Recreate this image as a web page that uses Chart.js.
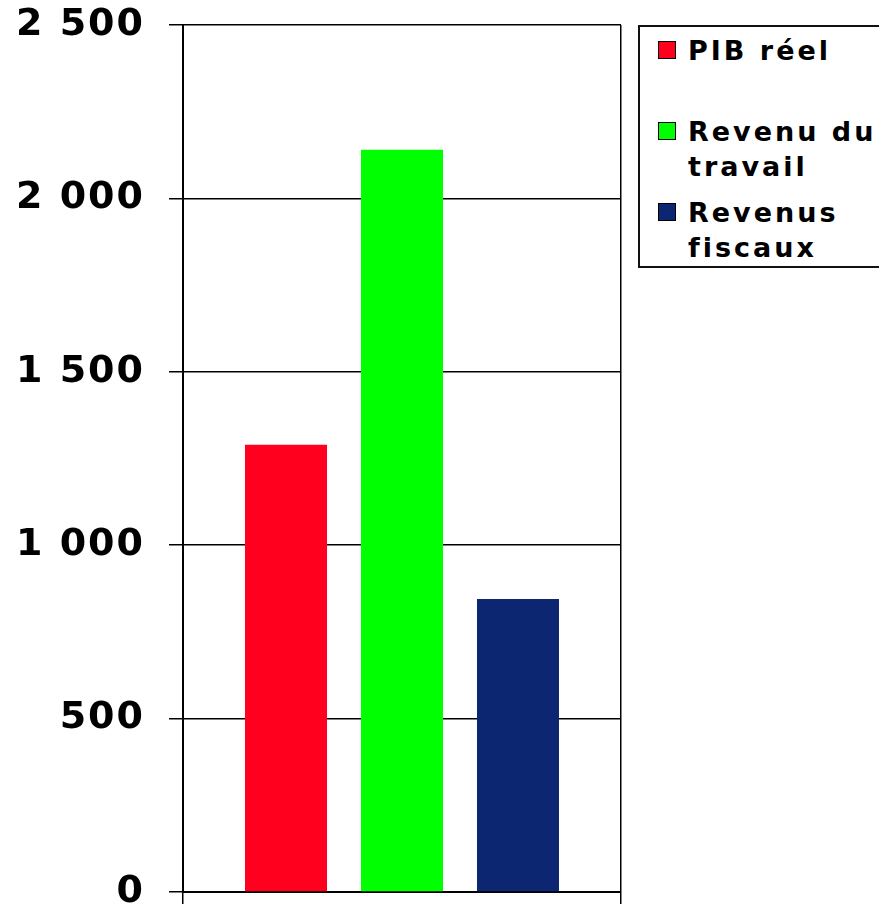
<!DOCTYPE html>
<html>
<head>
<meta charset="utf-8">
<script src="https://cdn.jsdelivr.net/npm/chart.js@4.4.1/dist/chart.umd.min.js"></script>
<style>
  html, body { margin: 0; padding: 0; background: #fff; }
  #wrap { position: relative; width: 879px; height: 909px; overflow: hidden; }
  #legend {
    position: absolute; left: 638px; top: 25px; width: 243px; height: 243px;
    box-sizing: border-box; border: 2px solid #111; background: #fff;
  }
  .item { position: absolute; left: 18px; }
  .sw { position: absolute; left: 0; top: 8px; width: 16px; height: 16px; border: 1px solid #000; }
  .tx {
    position: absolute; left: 30px; top: 0; width: 196px;
    font-family: "DejaVu Sans", sans-serif; font-weight: bold; font-size: 27px;
    line-height: 35px; letter-spacing: 3px; color: #000; white-space: normal;
  }
</style>
</head>
<body>
<div id="wrap">
  <canvas id="c" width="879" height="909"></canvas>
  <div id="legend"></div>
</div>
<script>
// ---- data ----
const categories = [''];
const seriesNames = ['PIB réel', 'Revenu du travail', 'Revenus fiscaux'];
const pibReel = [1290];
const revenuTravail = [2140];
const revenusFiscaux = [845];
const seriesColors = ['#FF001E', '#00FF00', '#0D2672'];
const yTicks = [0, 500, 1000, 1500, 2000, 2500];

function fmt(v) { return String(v).replace(/\B(?=(\d{3})+(?!\d))/g, ' '); }

const seriesValues = [pibReel, revenuTravail, revenusFiscaux];
const datasets = seriesNames.map((n, i) => ({
  label: n,
  data: seriesValues[i],
  backgroundColor: seriesColors[i],
  borderWidth: 0,
  barPercentage: 0.707,
  categoryPercentage: 0.7945
}));

const spacingPlugin = {
  id: 'spacing',
  beforeUpdate(chart) { chart.ctx.letterSpacing = '2px'; },
  beforeDraw(chart) { chart.ctx.letterSpacing = '2px'; }
};

const chart = new Chart(document.getElementById('c'), {
  type: 'bar',
  data: { labels: categories, datasets },
  plugins: [spacingPlugin],
  options: {
    responsive: false,
    animation: false,
    layout: { padding: { top: 25, right: 258, left: 0, bottom: 0 } },
    plugins: { legend: { display: false }, tooltip: { enabled: false } },
    scales: {
      x: {
        offset: true,
        grid: { display: true, offset: true, color: '#000', lineWidth: 1.5, tickLength: 12, tickColor: '#000', drawOnChartArea: true },
        border: { display: true, color: '#000', width: 2 },
        ticks: { display: false },
        afterFit(s) { s.height = 17; }
      },
      y: {
        min: yTicks[0],
        max: yTicks[yTicks.length - 1],
        afterBuildTicks(s) { s.ticks = yTicks.map(v => ({ value: v })); },
        grid: { color: '#000', lineWidth: 1.5, tickLength: 14, tickColor: '#000' },
        border: { display: true, color: '#000', width: 2 },
        ticks: {
          padding: 24,
          color: '#000',
          font: { family: 'DejaVu Sans', weight: 'bold', size: 38 },
          callback: (v) => fmt(v)
        },
        afterFit(s) { s.width = 183; s.paddingTop = 0; s.paddingBottom = 0; }
      }
    }
  }
});

// HTML legend generated from the chart datasets
const legend = document.getElementById('legend');
chart.data.datasets.forEach((ds, i) => {
  const it = document.createElement('div');
  it.className = 'item';
  it.style.top = (6 + i * 81) + 'px';
  const sw = document.createElement('div');
  sw.className = 'sw';
  sw.style.background = ds.backgroundColor;
  const tx = document.createElement('div');
  tx.className = 'tx';
  tx.textContent = ds.label;
  it.appendChild(sw); it.appendChild(tx);
  legend.appendChild(it);
});
</script>
</body>
</html>
